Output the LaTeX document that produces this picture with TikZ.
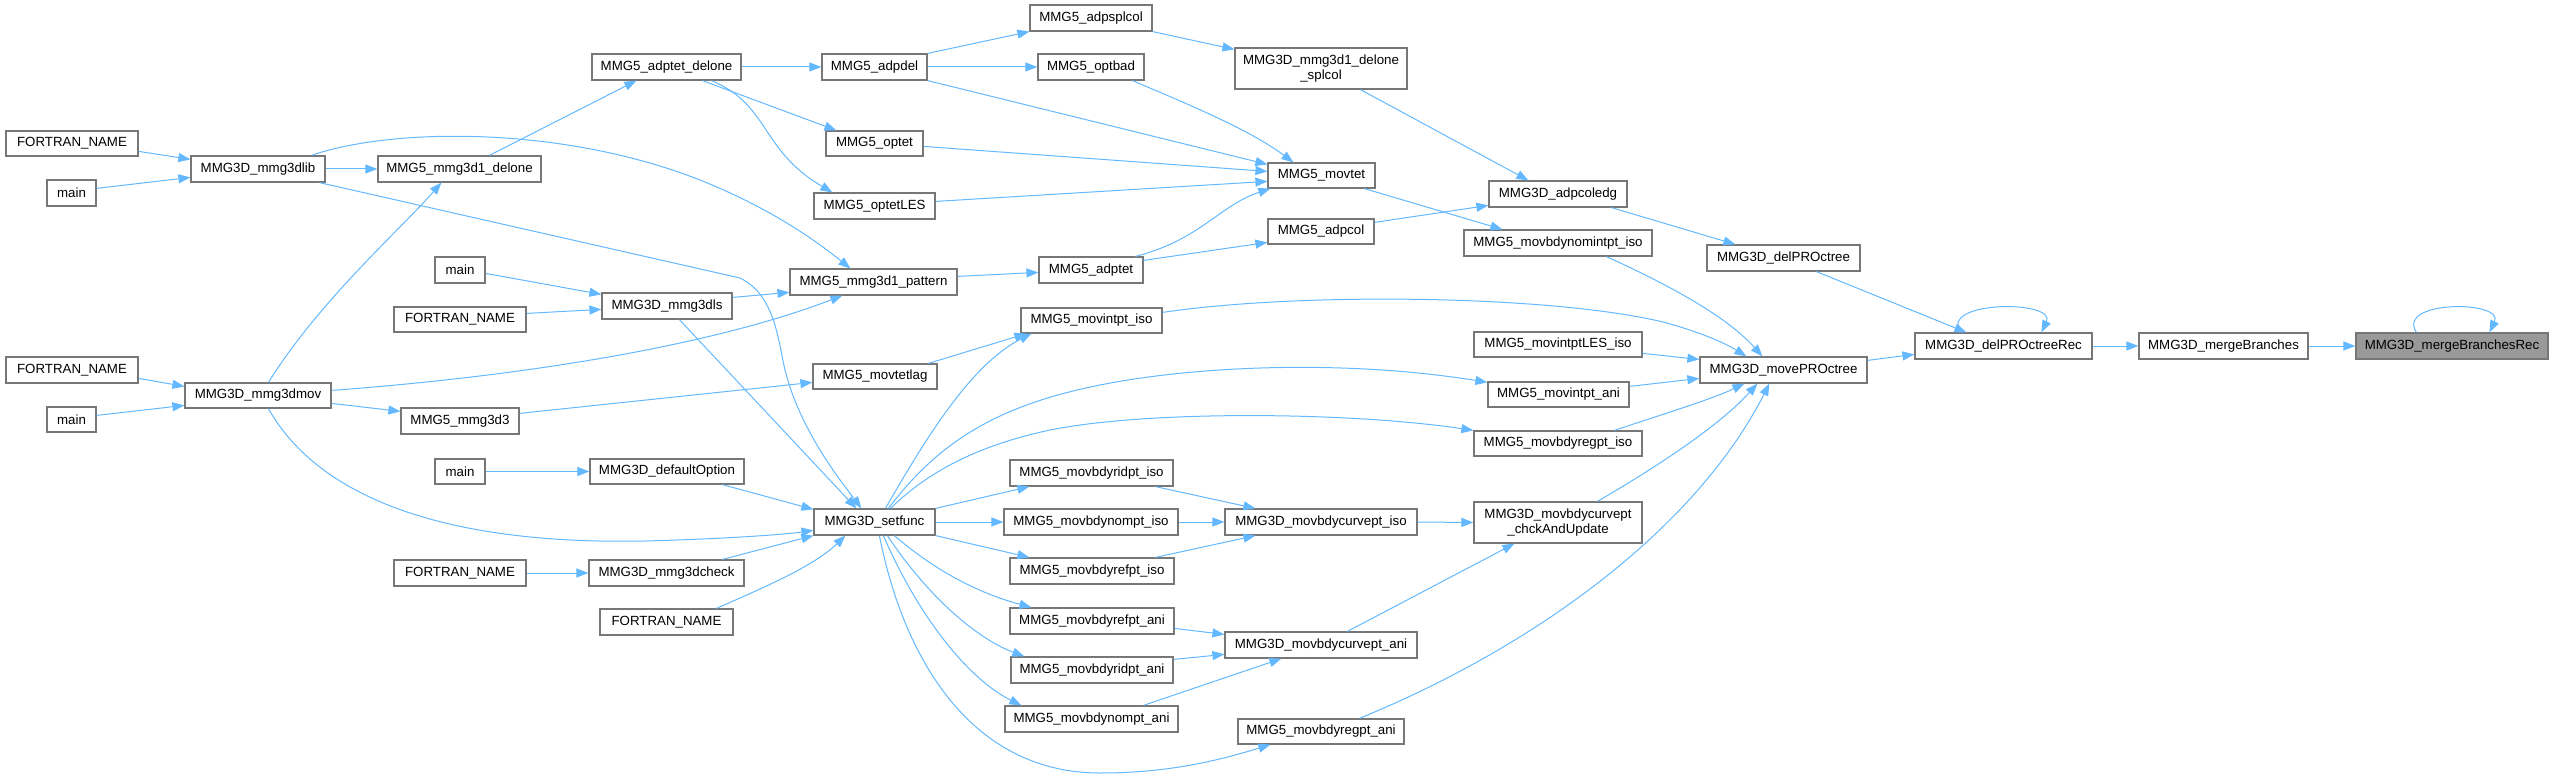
\documentclass[tikz,border=0pt]{standalone}
\usepackage{fontspec}
\setmainfont{Liberation Sans}
\usetikzlibrary{arrows.meta}
\definecolor{edgec}{HTML}{63B8FF}
\definecolor{boxc}{HTML}{777777}
\definecolor{hlc}{HTML}{999999}
\tikzset{
  box/.style={draw=boxc, line width=1.2pt, fill=white, inner sep=0pt,
    font=\fontsize{13.3}{15}\selectfont, align=center},
  hlbox/.style={box, fill=hlc},
  e/.style={draw=edgec, line width=1pt, -{Triangle[length=12pt,width=9pt]}},
}
\newcommand{\bx}[7][box]{\node[#1, minimum width={(#5)-(#3)}, minimum height={(#6)-(#4)}] (#2) at ({((#3)+(#5))/2},{((#4)+(#6))/2}) {#7};}
\begin{document}
\begin{tikzpicture}[x=1pt,y=-1pt]
\useasboundingbox (0,0) rectangle (2554,778);
% nodes
\bx{fn1}{6}{131}{138}{156}{FORTRAN\_NAME}
\bx{mainA}{47}{180}{96}{206}{main}
\bx{lib}{191}{156}{325}{182}{MMG3D\_mmg3dlib}
\bx{delone}{378}{156}{541}{182}{MMG5\_mmg3d1\_delone}
\bx{adptetd}{592}{54}{741}{80}{MMG5\_adptet\_delone}
\bx{mainB}{435}{257}{485}{283}{main}
\bx{dls}{602}{293}{732}{319}{MMG3D\_mmg3dls}
\bx{fn2}{394}{307}{526}{332}{FORTRAN\_NAME}
\bx{fn3}{6}{357}{138}{383}{FORTRAN\_NAME}
\bx{mov}{185}{383}{331}{408}{MMG3D\_mmg3dmov}
\bx{mainC}{47}{407}{96}{432}{main}
\bx{mmgthree}{401}{408}{519}{434}{MMG5\_mmg3d3}
\bx{mainD}{435}{459}{485}{484}{main}
\bx{defopt}{590}{459}{744}{484}{MMG3D\_defaultOption}
\bx{fn4}{394}{560}{526}{586}{FORTRAN\_NAME}
\bx{check}{589}{560}{744}{586}{MMG3D\_mmg3dcheck}
\bx{fn5}{600}{609}{733}{635}{FORTRAN\_NAME}
\bx{setfunc}{814}{509}{935}{535}{MMG3D\_setfunc}
\bx{adpsplcol}{1030}{5}{1152}{31}{MMG5\_adpsplcol}
\bx{adpdel}{822}{54}{927}{80}{MMG5\_adpdel}
\bx{optbad}{1038}{54}{1144}{80}{MMG5\_optbad}
\bx{splcol}{1235}{48}{1407}{89}{MMG3D\_mmg3d1\_delone\\\_splcol}
\bx{optet}{826}{131}{923}{156}{MMG5\_optet}
\bx{movtet}{1268}{163}{1375}{188}{MMG5\_movtet}
\bx{optetLES}{814}{193}{935}{219}{MMG5\_optetLES}
\bx{adpcoledg}{1489}{181}{1627}{207}{MMG3D\_adpcoledg}
\bx{adpcol}{1268}{219}{1374}{244}{MMG5\_adpcol}
\bx{nomint}{1464}{230}{1652}{256}{MMG5\_movbdynomintpt\_iso}
\bx{adptet}{1039}{257}{1143}{283}{MMG5\_adptet}
\bx{pattern}{790}{269}{957}{295}{MMG5\_mmg3d1\_pattern}
\bx{movintiso}{1021}{308}{1162}{333}{MMG5\_movintpt\_iso}
\bx{intLES}{1474}{332}{1642}{357}{MMG5\_movintptLES\_iso}
\bx{movtetlag}{813}{364}{937}{389}{MMG5\_movtetlag}
\bx{intani}{1488}{382}{1629}{407}{MMG5\_movintpt\_ani}
\bx{regiso}{1474}{431}{1642}{456}{MMG5\_movbdyregpt\_iso}
\bx{ridiso}{1010}{460}{1173}{486}{MMG5\_movbdyridpt\_iso}
\bx{nomiso}{1004}{509}{1178}{535}{MMG5\_movbdynompt\_iso}
\bx{curveiso}{1225}{509}{1417}{535}{MMG3D\_movbdycurvept\_iso}
\bx{chck}{1474}{502}{1642}{543}{MMG3D\_movbdycurvept\\\_chckAndUpdate}
\bx{refiso}{1010}{558}{1174}{584}{MMG5\_movbdyrefpt\_iso}
\bx{refani}{1010}{608}{1174}{634}{MMG5\_movbdyrefpt\_ani}
\bx{curveani}{1225}{632}{1417}{658}{MMG3D\_movbdycurvept\_ani}
\bx{ridani}{1011}{657}{1173}{683}{MMG5\_movbdyridpt\_ani}
\bx{nomani}{1005}{706}{1178}{732}{MMG5\_movbdynompt\_ani}
\bx{regani}{1238}{719}{1404}{744}{MMG5\_movbdyregpt\_ani}
\bx{delPRO}{1707}{245}{1860}{271}{MMG3D\_delPROctree}
\bx{delRec}{1915}{333}{2092}{359}{MMG3D\_delPROctreeRec}
\bx{merge}{2139}{333}{2308}{359}{MMG3D\_mergeBranches}
\bx[hlbox]{mergeRec}{2356}{333}{2548}{359}{MMG3D\_mergeBranchesRec}
\bx{movePRO}{1700}{357}{1867}{383}{MMG3D\_movePROctree}
% edges
\draw[e] ([yshift=-21]fn1.north east) -- ([yshift=-4]lib.north west);
\draw[e] ([yshift=-9]mainA.north east) -- ([yshift=-22]lib.north west);
\draw[e] (lib.east) -- (delone.west);
\draw[e] ([xshift=121]lib.north west) .. controls (390,128) and (560,125) .. (700,180) .. controls (770,208) and (815,240) .. ([xshift=61]pattern.north west);
\draw[e] ([xshift=129]lib.south west) -- (740,278) .. controls (775,295) and (778,340) .. (785,370) .. controls (800,430) and (840,480) .. ([xshift=48]setfunc.north west);
\draw[e] ([xshift=112]delone.north west) -- ([xshift=45]adptetd.south west);
\draw[e] (adptetd.east) -- (adpdel.west);
\draw[e] ([xshift=111]adptetd.south west) -- ([xshift=11]optet.north west);
\draw[e] ([xshift=120]adptetd.south west) .. controls (770,105) and (760,150) .. ([xshift=19]optetLES.north west);
\draw[e] ([xshift=84]mov.north west) .. controls (320,300) and (400,230) .. ([xshift=64]delone.south west);
\draw[e] ([yshift=-8]mov.north east) .. controls (500,378) and (700,350) .. ([xshift=53]pattern.south west);
\draw[e] ([yshift=-22]fn3.north east) -- ([yshift=-4]mov.north west);
\draw[e] ([yshift=-9]mainC.north east) -- ([yshift=-23]mov.north west);
\draw[e] ([yshift=-21]mov.north east) -- ([yshift=-4]mmgthree.north west);
\draw[e] ([xshift=84]mov.south west) .. controls (320,500) and (450,545) .. (645,541) .. controls (720,539) and (780,535) .. ([yshift=-22]setfunc.north west);
\draw[e] ([yshift=-17]mainB.north east) -- ([yshift=-2]dls.north west);
\draw[e] ([yshift=-7]fn2.north east) -- ([yshift=-17]dls.north west);
\draw[e] ([yshift=-5]dls.north east) -- ([yshift=-24]pattern.north west);
\draw[e] ([xshift=78]dls.south west) -- ([xshift=43]setfunc.north west);
\draw[e] ([yshift=-6]mmgthree.north east) -- ([yshift=-19]movtetlag.north west);
\draw[e] (mainD.east) -- (defopt.west);
\draw[e] ([xshift=133]defopt.south west) -- ([yshift=-1]setfunc.north west);
\draw[e] (fn4.east) -- (check.west);
\draw[e] ([xshift=134]check.north west) -- (setfunc.south west);
\draw[e] ([xshift=117]fn5.north west) .. controls (770,585) and (815,565) .. ([xshift=32]setfunc.south west);
\draw[e] (adpdel.north east) -- (adpsplcol.south west);
\draw[e] (adpdel.east) -- (optbad.west);
\draw[e] (adpdel.south east) -- ([yshift=-2]movtet.north west);
\draw[e] ([xshift=95]optbad.south west) .. controls (1190,105) and (1250,130) .. ([xshift=26]movtet.north west);
\draw[e] ([yshift=-16]optet.north east) -- ([yshift=-9]movtet.north west);
\draw[e] ([yshift=-9]optetLES.north east) -- ([yshift=-19]movtet.north west);
\draw[e] (adpsplcol.south east) -- ([yshift=-2]splcol.north west);
\draw[e] ([xshift=126]splcol.south west) -- ([xshift=40]adpcoledg.north west);
\draw[e] ([xshift=97]adptet.north west) .. controls (1200,240) and (1220,205) .. ([xshift=3]movtet.south west);
\draw[e] ([yshift=-4]adptet.north east) -- ([yshift=-24]adpcol.north west);
\draw[e] ([yshift=-8]pattern.north east) -- ([yshift=-16]adptet.north west);
\draw[e] ([yshift=-4]adpcol.north east) -- ([yshift=-25]adpcoledg.north west);
\draw[e] ([xshift=97]movtet.south west) -- ([xshift=39]nomint.north west);
\draw[e] ([xshift=123]adpcoledg.south west) -- ([xshift=29]delPRO.north west);
\draw[e] ([xshift=110]delPRO.south west) -- ([xshift=52]delRec.north west);
\draw[e] ([xshift=46]delRec.north west) .. controls (1939,300) and (2057,300) .. ([xshift=127]delRec.north west);
\draw[e] (delRec.east) -- (merge.west);
\draw[e] (merge.east) -- (mergeRec.west);
\draw[e] ([xshift=61]mergeRec.north west) .. controls (2395,300) and (2505,300) .. ([xshift=134]mergeRec.north west);
\draw[e] ([yshift=-4]movePRO.north east) -- ([yshift=-22]delRec.north west);
\draw[e] ([xshift=143]nomint.south west) .. controls (1680,290) and (1730,320) .. ([xshift=63]movePRO.north west);
\draw[e] ([yshift=-5]movintiso.north east) .. controls (1300,292) and (1550,295) .. (1663,322) .. controls (1700,332) and (1725,343) .. ([xshift=47]movePRO.north west);
\draw[e] ([yshift=-22]intLES.north east) -- ([yshift=-3]movePRO.north west);
\draw[e] ([yshift=-5]intani.north east) -- ([yshift=-22]movePRO.north west);
\draw[e] ([xshift=141]regiso.north west) .. controls (1660,415) and (1710,400) .. ([xshift=45]movePRO.south west);
\draw[e] ([xshift=124]chck.north west) .. controls (1660,465) and (1720,425) .. ([xshift=58]movePRO.south west);
\draw[e] ([xshift=122]regani.north west) .. controls (1550,640) and (1700,520) .. ([xshift=70]movePRO.south west);
\draw[e] (curveiso.east) -- (chck.west);
\draw[e] ([xshift=123]curveani.north west) -- ([xshift=41]chck.south west);
\draw[e] ([xshift=72]setfunc.north west) .. controls (925,440) and (970,365) .. ([xshift=11]movintiso.south west);
\draw[e] ([xshift=116]movtetlag.north west) -- ([xshift=6]movintiso.south west);
\draw[e] ([xshift=75]setfunc.north west) .. controls (940,440) and (1000,405) .. (1100,385) .. controls (1200,365) and (1350,360) .. ([yshift=-1]intani.north west);
\draw[e] ([xshift=77]setfunc.north west) .. controls (930,470) and (980,445) .. (1050,430) .. controls (1150,410) and (1350,412) .. (regiso.north west);
\draw[e] (setfunc.north east) -- ([xshift=20]ridiso.south west);
\draw[e] (setfunc.east) -- (nomiso.west);
\draw[e] (setfunc.south east) -- ([xshift=20]refiso.north west);
\draw[e] ([xshift=81]setfunc.south west) .. controls (940,575) and (985,595) .. ([xshift=22]refani.north west);
\draw[e] ([xshift=74]setfunc.south west) .. controls (930,600) and (980,640) .. ([xshift=14]ridani.north west);
\draw[e] ([xshift=70]setfunc.south west) .. controls (920,620) and (970,680) .. ([xshift=17]nomani.north west);
\draw[e] ([xshift=66]setfunc.south west) .. controls (905,665) and (975,773) .. (1100,773) .. controls (1170,773) and (1220,760) .. ([xshift=33]regani.south west);
\draw[e] ([xshift=146]ridiso.south west) -- ([xshift=31]curveiso.north west);
\draw[e] (nomiso.east) -- (curveiso.west);
\draw[e] ([xshift=146]refiso.north west) -- ([xshift=31]curveiso.south west);
\draw[e] ([yshift=-21]refani.north east) -- ([yshift=-3]curveani.north west);
\draw[e] ([yshift=-3]ridani.north east) -- ([yshift=-23]curveani.north west);
\draw[e] ([xshift=139]nomani.north west) -- ([xshift=57]curveani.south west);
\end{tikzpicture}
\end{document}
